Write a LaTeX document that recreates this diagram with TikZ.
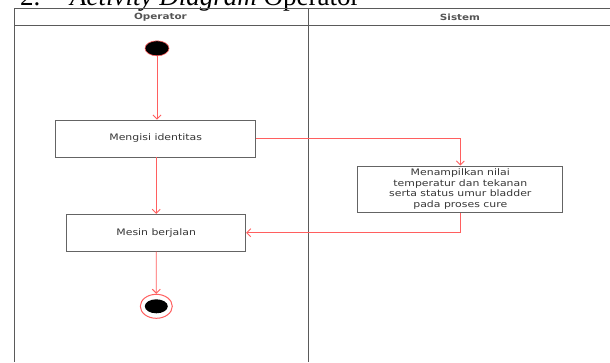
\documentclass[tikz,border=0pt]{standalone}
\usepackage{fontspec}
\usepackage{graphicx}
\newfontfamily\boxfont{DejaVu Sans}
\newfontfamily\titlefont{Liberation Serif}
\usetikzlibrary{arrows.meta,shapes.geometric}
\definecolor{flow}{RGB}{255,95,95}
\definecolor{boxline}{RGB}{100,100,100}
\definecolor{boxtext}{RGB}{55,55,55}
\definecolor{lane}{RGB}{90,90,90}
\newcommand{\sqz}[1]{\scalebox{1}[0.82]{#1}}
\tikzset{
  actbox/.style={draw=boxline, line width=0.9pt, inner sep=0pt, align=center,
    text=boxtext, font=\boxfont\fontsize{10.9}{12.7}\selectfont},
  flowline/.style={draw=flow, line width=0.9pt, -{Straight Barb[length=4pt,width=8pt]}},
  lanehead/.style={font=\boxfont\bfseries\fontsize{10.4}{12}\selectfont, text=boxtext!85, inner sep=0pt},
  laneline/.style={draw=lane, line width=0.9pt},
}
\begin{document}
\begin{tikzpicture}[x=1pt,y=-1pt]
\useasboundingbox (0,0) rectangle (610,362);
\fill[white] (0,0) rectangle (610,362);
% title (cut off at the top)
\node[anchor=base west, inner sep=0pt, font=\titlefont\fontsize{27}{30}\selectfont] (num) at (20,5) {2.};
\node[anchor=base west, inner sep=0pt, font=\titlefont\fontsize{27}{30}\selectfont] (title) at (70,5) {\textit{Activity Diagram} Operator};
% swimlanes
\coordinate (tl) at (14.5,8.7);
\coordinate (tr) at (610,8.7);
\coordinate (hl) at (14.5,25);
\coordinate (hr) at (610,25);
\coordinate (bl) at (14.5,362);
\coordinate (dt) at (308.5,8.7);
\coordinate (db) at (308.5,362);
\draw[laneline] (tr) -- (tl) -- (bl);
\draw[laneline] (hl) -- (hr);
\draw[laneline] (dt) -- (db);
\node[lanehead] (hop) at (160.5,17) {\sqz{Operator}};
\node[lanehead] (hsis) at (460,17) {\sqz{Sistem}};
% nodes
\node[ellipse, draw=flow, fill=black, line width=0.6pt, minimum width=24pt, minimum height=15pt, inner sep=0pt] (start) at (157,48.3) {};
\node[actbox, minimum width=200pt, minimum height=37pt] (isi) at (155.7,138.5) {\sqz{Mengisi identitas}};
\node[actbox, minimum width=205pt, minimum height=46.7pt] (tampil) at (460.3,189.3) {\sqz{\begin{tabular}{@{}c@{}}Menampilkan nilai\\temperatur dan tekanan\\serta status umur bladder\\pada proses cure\end{tabular}}};
\node[actbox, minimum width=179pt, minimum height=36.7pt] (mesin) at (156.2,232.7) {\sqz{Mesin berjalan}};
\node[ellipse, draw=flow, line width=1pt, minimum width=32pt, minimum height=24pt, inner sep=0pt] (end) at (156.3,306.3) {};
\node[ellipse, fill=black, minimum width=23pt, minimum height=14pt, inner sep=0pt] (endin) at (end.center) {};
% flows
\draw[flowline] (start.south) -- (start.south |- isi.north);
\draw[flowline] (isi.east) -| (tampil.north);
\draw[flowline] (isi.south -| mesin.north) -- (mesin.north);
\draw[flowline] (tampil.south) |- (mesin.east);
\draw[flowline] (mesin.south) -- (end.north);
\end{tikzpicture}
\end{document}
